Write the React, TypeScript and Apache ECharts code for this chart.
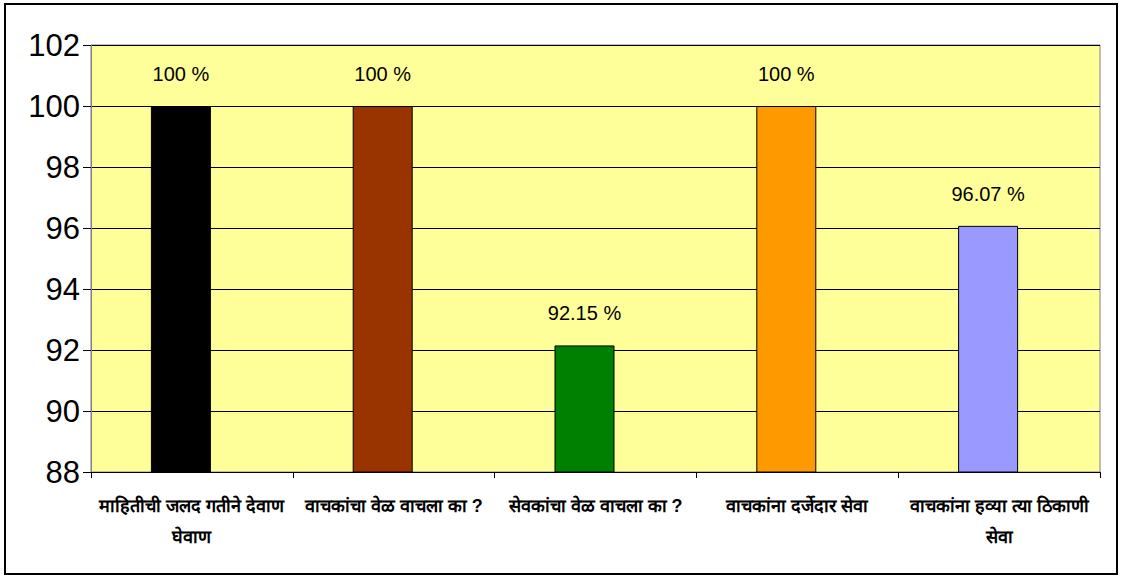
import React, { useEffect, useRef } from "react";
import * as echarts from "echarts";

const categories = [
  "माहितीची जलद गतीने देवाण\nघेवाण",
  "वाचकांचा वेळ वाचला का ?",
  "सेवकांचा वेळ वाचला का ?",
  "वाचकांना दर्जेदार सेवा",
  "वाचकांना हव्या त्या ठिकाणी\nसेवा",
];
const values = [100, 100, 92.15, 100, 96.07];
const valueLabels = ["100 %", "100 %", "92.15 %", "100 %", "96.07 %"];
const barColors = ["#000000", "#993300", "#008000", "#FF9900", "#9999FF"];
const spacerValues = ["-", "-", "-", "-", "-"];
const yMin = 88;
const yMax = 102;
const yStep = 2;

export default function App() {
  const ref = useRef<HTMLDivElement>(null);
  useEffect(() => {
    document.body.style.margin = "0";
    const chart = echarts.init(ref.current!, null, { renderer: "svg" });
    chart.setOption({
      animation: false,
      backgroundColor: "#ffffff",
      graphic: [
        {
          type: "rect",
          shape: { x: 5, y: 4, width: 1112, height: 570 },
          style: { fill: "none", stroke: "#000", lineWidth: 2 },
          z: 0,
        },
      ],
      grid: {
        left: 91,
        top: 45,
        right: 25,
        bottom: 106,
        show: true,
        backgroundColor: "#FFFF99",
        borderColor: "#808080",
        borderWidth: 1,
      },
      xAxis: {
        type: "category",
        data: categories,
        axisLine: { lineStyle: { color: "#000", width: 1 } },
        axisTick: { show: true, alignWithLabel: false, length: 6, lineStyle: { color: "#000" } },
        axisLabel: {
          interval: 0,
          fontSize: 18,
          lineHeight: 31,
          margin: 18,
          color: "#000",
          fontWeight: "bold",
          fontFamily: "sans-serif",
        },
      },
      yAxis: {
        type: "value",
        min: yMin,
        max: yMax,
        interval: yStep,
        axisLine: { show: true, lineStyle: { color: "#808080", width: 1 } },
        axisTick: { show: true, length: 8, lineStyle: { color: "#000" } },
        splitLine: { show: true, lineStyle: { color: "#000", width: 1 } },
        axisLabel: {
          fontSize: 31,
          color: "#000",
          margin: 11,
          fontFamily: "Liberation Sans, Arial, sans-serif",
        },
      },
      series: [
        {
          type: "bar",
          barWidth: 60,
          barGap: "0%",
          data: values.map((v, i) => ({
            value: v,
            itemStyle: { color: barColors[i], borderColor: "#000", borderWidth: 1 },
          })),
          label: {
            show: true,
            position: "top",
            distance: 22,
            fontSize: 20,
            color: "#000",
            fontFamily: "Liberation Sans, Arial, sans-serif",
            formatter: (p: any) => valueLabels[p.dataIndex],
          },
        },
        {
          type: "bar",
          barWidth: 22,
          silent: true,
          data: spacerValues,
        },
      ],
    });
    return () => chart.dispose();
  }, []);
  return <div ref={ref} style={{ width: 1125, height: 578 }} />;
}
